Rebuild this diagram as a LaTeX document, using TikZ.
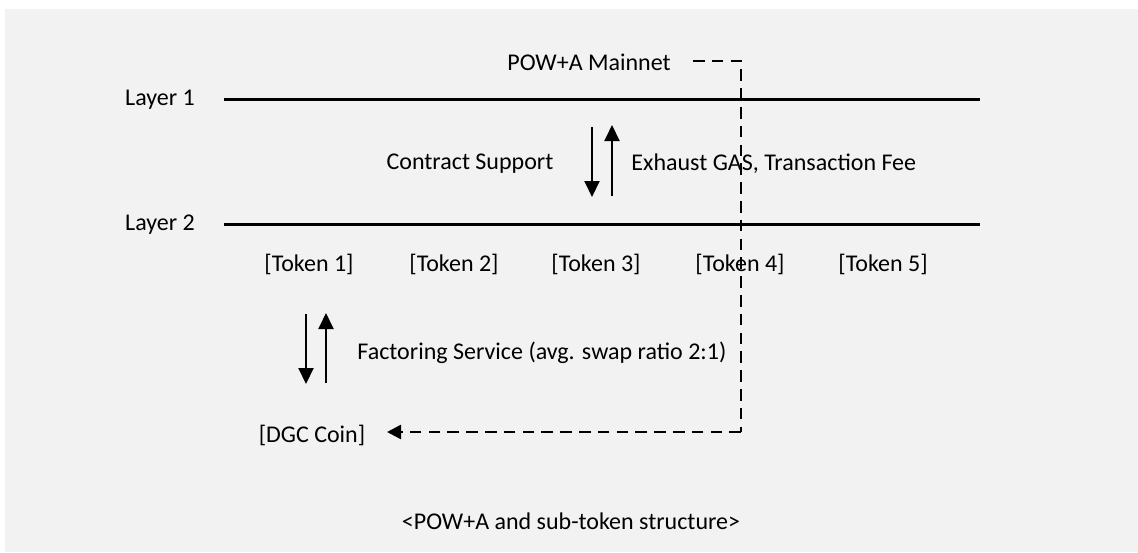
\documentclass[tikz,border=0pt]{standalone}
\usepackage{fontspec}
\setmainfont{Carlito}
\usetikzlibrary{arrows.meta}
\definecolor{bggray}{HTML}{F2F2F2}
\begin{document}
\begin{tikzpicture}[x=0.5pt,y=-0.5pt,
  lbl/.style={inner sep=0pt,font=\fontsize{12}{14}\selectfont},
  layerline/.style={line width=1.5pt},
  flow/.style={line width=1pt,-{Triangle[length=8pt,width=7.5pt]}},
  dashlink/.style={line width=1.25pt,dash pattern=on 5.8pt off 3.6pt}]
\useasboundingbox (0,0) rectangle (1138,552);
\fill[bggray] (5,9) rectangle (1138,552);
% layers
\node[lbl] (l1) at (160,100) {Layer 1};
\node[lbl] (l2) at (160,225) {Layer 2};
\coordinate (l1a) at (224,99); \coordinate (l1b) at (980,99);
\coordinate (l2a) at (224,224); \coordinate (l2b) at (980,224);
\draw[layerline] (l1a) -- (l1b);
\draw[layerline] (l2a) -- (l2b);
% mainnet
\node[lbl] (main) at (589,62) {POW+A Mainnet};
\node[lbl] (cs) at (470,164) {Contract Support};
\node[lbl,anchor=west] (gas) at (631,164) {Exhaust GAS, Transaction Fee};
\coordinate (d1s) at (592,127); \coordinate (d1e) at (592,197);
\coordinate (u1s) at (612,196); \coordinate (u1e) at (612,125);
\draw[flow] (d1s) -- (d1e);
\draw[flow] (u1s) -- (u1e);
% tokens
\node[lbl] (t1) at (309,264) {[Token 1]};
\node[lbl] (t2) at (454,264) {[Token 2]};
\node[lbl] (t3) at (596,264) {[Token 3]};
\node[lbl] (t4) at (740,264) {[Token 4]};
\node[lbl] (t5) at (883,264) {[Token 5]};
% factoring
\coordinate (d2s) at (306,314); \coordinate (d2e) at (306,384);
\coordinate (u2s) at (326,383); \coordinate (u2e) at (326,313);
\draw[flow] (d2s) -- (d2e);
\draw[flow] (u2s) -- (u2e);
\node[lbl,anchor=west] (fs) at (357,353) {Factoring Service (avg. swap ratio 2:1)};
\node[lbl] (dgc) at (312,435) {[DGC Coin]};
% dashed link
\coordinate (dstart) at (693,61);
\coordinate (dcorner1) at (741,61);
\coordinate (dcorner2) at (741,432);
\coordinate (dend) at (387,432);
\draw[dashlink] (dstart) -- (dcorner1) -- (dcorner2);
\draw[dashlink,-{Triangle[length=7pt,width=7pt]}] (dcorner2) -- (dend);
% caption
\node[lbl] (cap) at (571,521) {<POW+A and sub-token structure>};
\end{tikzpicture}
\end{document}
